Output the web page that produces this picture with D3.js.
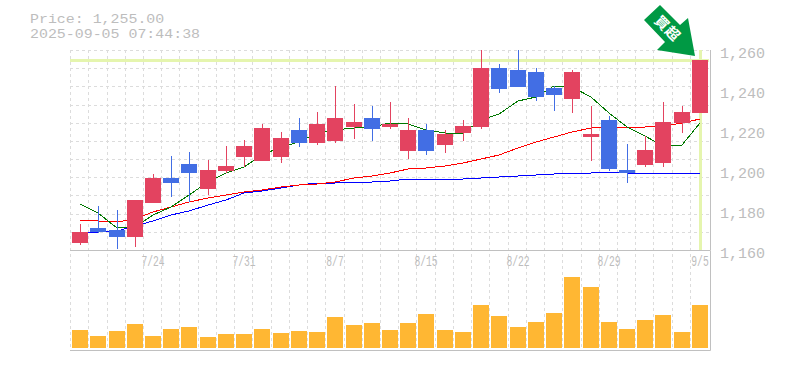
<!DOCTYPE html>
<html>
<head>
<meta charset="utf-8">
<script src="https://cdn.jsdelivr.net/npm/d3@7"></script>
<style>
body { margin: 0; background: #fff; }
text { font-family: "Liberation Mono", "DejaVu Sans Mono", monospace; fill: #bdbdbd; }
</style>
</head>
<body>
<div id="chart"></div>
<script>
const dates = ['7/17','7/18','7/22','7/23','7/24','7/25','7/28','7/29','7/30','7/31','8/1','8/4','8/5','8/6','8/7','8/8','8/12','8/13','8/14','8/15','8/18','8/19','8/20','8/21','8/22','8/25','8/26','8/27','8/28','8/29','9/1','9/2','9/3','9/4','9/5'];
const opens = [1163.5,1171,1170,1166.5,1183.5,1196,1203,1190.5,1199.5,1206.5,1204.5,1206.5,1220,1213.5,1214.5,1221.5,1226,1221.5,1209.5,1220,1212.5,1218.5,1221.5,1251,1250,1249,1241,1235.5,1216.5,1225,1200,1202.5,1203.5,1223.5,1228.5];
const closes = [1169,1169,1166.5,1185,1196,1193.5,1198.5,1200,1202,1212,1221,1216,1213.5,1223,1226,1224,1220.5,1223,1220,1209.5,1218,1222,1251,1240.5,1241.5,1236.5,1237.5,1249,1218,1200.5,1198.5,1210,1224,1229,1255];
const highs = [1173,1182,1180,1185,1198,1207,1209,1205,1212,1215,1223,1219,1226,1229,1242,1233,1232,1234,1226,1223,1220,1225,1260,1253,1260,1251,1242,1250,1232,1227,1213,1217,1234,1232,1255];
const lows = [1162.5,1168.5,1160.5,1161.5,1183.5,1186.5,1184,1187.5,1198.5,1201.5,1204.5,1203.5,1211.5,1212.5,1213.5,1215.5,1214.5,1220.5,1205.5,1207.5,1208.5,1214.5,1220.5,1238.5,1241.5,1234.5,1229.5,1228.5,1204.5,1199.5,1193.5,1201.5,1201.5,1218.5,1228.5];
const ma5 = [1183,1178.5,1171,1171.5,1177.5,1181.5,1187.5,1194,1198.5,1201.5,1207.5,1211.5,1214,1218.5,1220,1221,1221.5,1223.5,1223,1220,1218.5,1218.5,1225,1228,1234.5,1236.5,1242,1241.5,1236.5,1228.5,1221.5,1217,1212,1212.5,1223.5];
const ma25 = [1175,1174.5,1174,1175.5,1179,1181.5,1184,1186,1187.5,1189,1190,1191.5,1192.5,1193,1194,1196,1197,1198.5,1200.5,1201,1202,1203.5,1205.5,1207.5,1211,1214,1216.5,1219,1221,1221.5,1221.5,1221.5,1222,1223.5,1225.5];
const ma75 = [1168.5,1169,1169.5,1172,1174.5,1177.5,1179.5,1182.5,1185,1188.5,1189.5,1191,1192.5,1193.5,1193.5,1194,1194,1194.5,1195.5,1195.5,1195.5,1195.5,1196,1196.5,1197,1197.5,1198,1198.5,1198.5,1199,1198.5,1198.5,1198.5,1198.5,1198.5];
const volumes = [18,12,17,24,12,19,21,11,14,14,19,15,17,16,31,23,25,18,25,34,18,16,43,32,21,26,35,71,61,26,19,28,33,16,43];
const priceTicks = [1160,1180,1200,1220,1240,1260];
const dateTicks = ['7/24','7/31','8/7','8/15','8/22','8/29','9/5'];
const lastPrice = 1255;
const headerLines = ['Price: 1,255.00', '2025-09-05 07:44:38'];
const signalChars = ['買', '超'];

const WIDTH = 785;
const HEIGHT = 370;
const LEFT = 70;
const RIGHT = 710;
const PRICE_TOP = 50;
const PRICE_BOTTOM = 250;
const VOL_BOTTOM = 348;
const FRAME_BOTTOM = 350;
const CANDLE_W = 16;
const RED = '#e34360';
const BLUE = '#426ee4';
const GRID = '#dcdcdc';
const FRAME = '#c0c0c0';
const HILITE = '#e5f5ae';

const translate = (x, y) => (`translate(${x},${y})`);

const svg = d3.select('#chart').append('svg')
    .attr('width', WIDTH)
    .attr('height', HEIGHT);

const xScale = d3.scaleBand().domain(dates).range([71, 709]);
const xCenter = d => Math.round(xScale(d) + xScale.bandwidth() / 2);
const yScale = d3.scaleLinear().domain([1160, 1260]).range([PRICE_BOTTOM, PRICE_TOP]);
const volScale = d3.scaleLinear().domain([0, 98]).range([VOL_BOTTOM, PRICE_BOTTOM]);

// grid, the lines sit between the candles and not on the price ticks
const gridX = dates.map(d => xCenter(d) - 9.5);
const gridY = d3.range(0, 12).map(i => Math.round(PRICE_TOP + i * 200 / 11) + 0.5);

svg.append('g').selectAll('line')
    .data(gridX)
    .enter()
    .append('line')
    .attr('x1', d => d)
    .attr('x2', d => d)
    .attr('y1', PRICE_TOP)
    .attr('y2', FRAME_BOTTOM)
    .attr('stroke', GRID)
    .attr('stroke-dasharray', '3,3');

svg.append('g').selectAll('line')
    .data(gridY)
    .enter()
    .append('line')
    .attr('x1', LEFT)
    .attr('x2', RIGHT)
    .attr('y1', d => d)
    .attr('y2', d => d)
    .attr('stroke', GRID)
    .attr('stroke-dasharray', '3,3');

// last price highlight
svg.append('line')
    .attr('x1', LEFT)
    .attr('x2', RIGHT - 1)
    .attr('y1', yScale(lastPrice) + 0.5)
    .attr('y2', yScale(lastPrice) + 0.5)
    .attr('stroke', HILITE)
    .attr('stroke-width', 3);

svg.append('line')
    .attr('x1', xCenter(dates[34]) + 0.5)
    .attr('x2', xCenter(dates[34]) + 0.5)
    .attr('y1', PRICE_TOP)
    .attr('y2', PRICE_BOTTOM)
    .attr('stroke', HILITE)
    .attr('stroke-width', 3);

// frame
svg.append('path')
    .attr('d', `M${LEFT},${PRICE_BOTTOM + 0.5}H${RIGHT + 0.5}V${FRAME_BOTTOM + 0.5}H${LEFT}M${RIGHT + 0.5},${PRICE_TOP}V${PRICE_BOTTOM}`)
    .attr('fill', 'none')
    .attr('stroke', FRAME);

// moving averages, aliased like the original
const drawLine = function (values, color, width) {
    const line = d3.line()
        .x((d, i) => xCenter(dates[i]))
        .y(d => yScale(d));
    svg.append('path')
        .attr('d', line(values))
        .attr('fill', 'none')
        .attr('stroke', color)
        .attr('stroke-width', width)
        .attr('shape-rendering', 'crispEdges');
};
drawLine(ma75, '#0000ff', 1);
drawLine(ma25, '#ff0000', 1);
drawLine(ma5, '#007800', 1);

// candles
const candles = dates.map((d, i) => ({
    date: d, open: opens[i], close: closes[i], high: highs[i], low: lows[i]
}));
const candleColor = d => d.close >= d.open ? RED : BLUE;

svg.append('g').selectAll('line')
    .data(candles)
    .enter()
    .append('line')
    .attr('x1', d => xCenter(d.date) + 0.5)
    .attr('x2', d => xCenter(d.date) + 0.5)
    .attr('y1', d => yScale(d.high))
    .attr('y2', d => yScale(d.low))
    .attr('stroke', candleColor);

svg.append('g').selectAll('rect')
    .data(candles)
    .enter()
    .append('rect')
    .attr('x', d => xCenter(d.date) - CANDLE_W / 2)
    .attr('y', d => yScale(Math.max(d.open, d.close)))
    .attr('width', CANDLE_W)
    .attr('height', d => Math.abs(yScale(d.open) - yScale(d.close)))
    .attr('fill', candleColor);

// volume
svg.append('g').selectAll('rect')
    .data(volumes)
    .enter()
    .append('rect')
    .attr('x', (d, i) => xCenter(dates[i]) - CANDLE_W / 2)
    .attr('y', d => volScale(d))
    .attr('width', CANDLE_W)
    .attr('height', d => VOL_BOTTOM - volScale(d))
    .attr('fill', '#ffb733');

// texts
svg.append('g').selectAll('text')
    .data(headerLines)
    .enter()
    .append('text')
    .attr('x', 30)
    .attr('y', (d, i) => 23 + i * 15)
    .attr('font-size', 13.2)
    .attr('textLength', d => d.length * 8.95)
    .attr('lengthAdjust', 'spacingAndGlyphs')
    .text(d => d);

svg.append('g').selectAll('text')
    .data(priceTicks)
    .enter()
    .append('text')
    .attr('x', 720)
    .attr('y', d => yScale(d) + 8)
    .attr('font-size', 15)
    .text(d => d3.format(',')(d));

svg.append('g').selectAll('text')
    .data(dateTicks)
    .enter()
    .append('text')
    .attr('x', d => xCenter(d))
    .attr('y', 266)
    .attr('text-anchor', 'middle')
    .attr('font-size', 14)
    .attr('textLength', d => d.length * 5.8)
    .attr('lengthAdjust', 'spacingAndGlyphs')
    .text(d => d);

// signal arrow, drawn relative to its tip above the last candle
const tipX = xCenter(dates[34]) - 5;
const tipY = yScale(lastPrice) - 4;
const arrow = svg.append('g')
    .attr('transform', translate(tipX, tipY));

arrow.append('path')
    .attr('d', 'M-51,-36L-35,-51L-15,-31L-7,-38L0,0L-38,-6L-30,-14Z')
    .attr('fill', '#009944');

arrow.selectAll('text')
    .data(signalChars)
    .enter()
    .append('text')
    .attr('transform', (d, i) => translate(-33 + i * 10.5, -33 + i * 10.5) + ' rotate(45)')
    .attr('text-anchor', 'middle')
    .attr('dy', '0.36em')
    .attr('font-size', 14)
    .attr('font-weight', 'bold')
    .style('font-family', '"Noto Sans CJK JP"')
    .style('fill', '#fff')
    .text(d => d);
</script>
</body>
</html>
